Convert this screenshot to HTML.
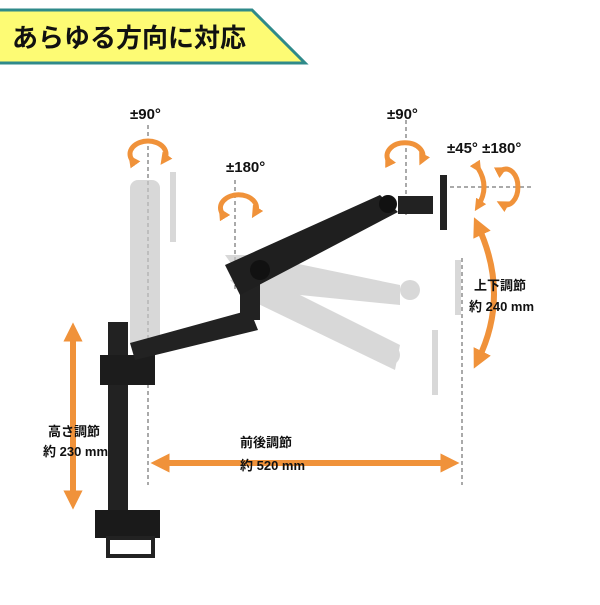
<!DOCTYPE html><html><head><meta charset="utf-8"><style>
body{margin:0;width:600px;height:600px;background:#fff;overflow:hidden;font-family:"Liberation Sans","Noto Sans CJK JP",sans-serif}
</style></head><body>
<svg width="600" height="600" viewBox="0 0 600 600" xmlns="http://www.w3.org/2000/svg" font-family="Liberation Sans, Noto Sans CJK JP, sans-serif">
<defs><marker id="ah" viewBox="0 0 10 10" refX="5" refY="5" markerWidth="3.2" markerHeight="3.2" orient="auto-start-reverse"><path d="M0,0L10,5L0,10z" fill="#f0923a"/></marker>
<marker id="sh" viewBox="0 0 10 10" refX="5" refY="5" markerWidth="2.4" markerHeight="2.4" orient="auto"><path d="M0,0L10,5L0,10z" fill="#f0923a"/></marker></defs>
<path d="M-5,10 L252,10 L305,63 L-5,63Z" fill="#fdfb74" stroke="#2f8a8a" stroke-width="3"/>
<text x="12" y="47" font-size="26" font-weight="bold" fill="#111">あらゆる方向に対応</text>
<g stroke="#555" stroke-width="1" stroke-dasharray="4,3" fill="none">
<line x1="148" y1="125" x2="148" y2="485"/><line x1="235" y1="180" x2="235" y2="290"/>
<line x1="406" y1="120" x2="406" y2="215"/><line x1="462" y1="258" x2="462" y2="485"/>
<line x1="450" y1="187" x2="532" y2="187"/></g>
<g fill="#c8c8c8" opacity="0.7">
<rect x="130" y="180" width="30" height="170" rx="8"/><rect x="170" y="172" width="6" height="70"/>
<path d="M225,255 L255,255 L400,285 L400,305 L250,290Z"/>
<path d="M230,280 L260,275 L400,345 L395,370 L250,300Z"/>
<rect x="455" y="260" width="6" height="55"/><rect x="432" y="330" width="6" height="65"/>
<circle cx="410" cy="290" r="10"/><circle cx="390" cy="355" r="10"/>
</g>
<rect x="108" y="322" width="20" height="190" fill="#222"/>
<rect x="100" y="355" width="55" height="30" fill="#1c1c1c"/>
<rect x="95" y="510" width="65" height="28" fill="#1a1a1a"/>
<rect x="108" y="538" width="45" height="18" fill="none" stroke="#222" stroke-width="4"/>
<path d="M130,343 L250,310 L258,330 L135,360Z" fill="#222"/>
<rect x="240" y="280" width="20" height="40" fill="#222"/>
<path d="M225,265 L380,195 L398,212 L240,295Z" fill="#1f1f1f"/>
<circle cx="260" cy="270" r="10" fill="#111"/><circle cx="388" cy="204" r="9" fill="#111"/>
<rect x="398" y="196" width="35" height="18" fill="#222"/>
<rect x="440" y="175" width="7" height="55" fill="#222"/>
<g stroke="#f0923a" stroke-width="6" fill="none" marker-start="url(#ah)" marker-end="url(#ah)">
<line x1="73" y1="332" x2="73" y2="500"/>
<line x1="160" y1="463" x2="450" y2="463"/>
<path d="M478,226 Q510,295 478,360"/>
</g>
<g stroke="#f0923a" stroke-width="5" fill="none" marker-start="url(#sh)" marker-end="url(#sh)">
<path d="M132,160 A18,13 0 1 1 164,160"/><path d="M222,213 A18,13 0 1 1 255,213"/>
<path d="M388,160 A18,13 0 1 1 422,160"/><path d="M478,168 Q490,187 478,206"/>
<path d="M502,170 A12,18 0 1 1 502,204"/>
</g>
<g font-weight="bold" fill="#111" font-size="15">
<text x="130" y="119">±90°</text><text x="226" y="172">±180°</text><text x="387" y="119">±90°</text><text x="447" y="153">±45° ±180°</text>
<text x="48" y="436" font-size="13">高さ調節</text><text x="43" y="456" font-size="13">約 230 mm</text>
<text x="240" y="447" font-size="13">前後調節</text><text x="240" y="470" font-size="13">約 520 mm</text>
<text x="474" y="290" font-size="13">上下調節</text><text x="469" y="311" font-size="13">約 240 mm</text>
</g>
</svg></body></html>
